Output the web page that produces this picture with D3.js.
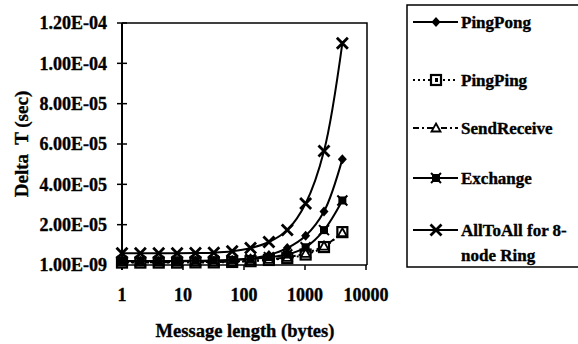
<!DOCTYPE html>
<html>
<head>
<meta charset="utf-8">
<script src="https://cdn.jsdelivr.net/npm/d3@7"></script>
<style>
	body { margin: 0; background: #fff; }
	svg { display: block; }
	text { font-family: 'Liberation Serif', Tinos, 'Times New Roman', serif; font-weight: bold; fill: #000; stroke: #000; stroke-width: 0.35px; }
</style>
</head>
<body>
<svg class="delta-chart" width="578" height="344"></svg>
<script>
// message sizes (bytes) and measured delta T (sec) per benchmark
let sizes = [1, 2, 4, 8, 16, 32, 64, 128, 256, 512, 1024, 2048, 4096];
let pingPong = [1.8e-6, 1.8e-6, 1.8e-6, 1.8e-6, 1.9e-6, 2.0e-6, 2.5e-6, 3.3e-6, 5.0e-6, 8.4e-6, 1.45e-5, 2.65e-5, 5.25e-5];
let pingPing = [1.2e-6, 1.2e-6, 1.2e-6, 1.2e-6, 1.3e-6, 1.3e-6, 1.5e-6, 1.9e-6, 2.5e-6, 3.4e-6, 5.2e-6, 8.9e-6, 1.63e-5];
let sendReceive = [1.4e-6, 1.4e-6, 1.4e-6, 1.4e-6, 1.5e-6, 1.5e-6, 1.7e-6, 2.1e-6, 2.8e-6, 3.8e-6, 5.8e-6, 9.4e-6, 1.6e-5];
let exchange = [2.0e-6, 2.0e-6, 2.0e-6, 2.0e-6, 2.1e-6, 2.2e-6, 2.5e-6, 3.0e-6, 3.9e-6, 5.2e-6, 8.8e-6, 1.73e-5, 3.2e-5];
let allToAll = [5.8e-6, 5.8e-6, 5.8e-6, 5.8e-6, 5.9e-6, 6.1e-6, 6.8e-6, 8.4e-6, 1.14e-5, 1.73e-5, 3.05e-5, 5.65e-5, 1.10e-4];

let seriesNames = ['PingPong', 'PingPing', 'SendReceive', 'Exchange', 'AllToAll for 8-'];
let yTicks = [1e-9, 2e-5, 4e-5, 6e-5, 8e-5, 1e-4, 1.2e-4];
let yTickLabels = ['1.00E-09', '2.00E-05', '4.00E-05', '6.00E-05', '8.00E-05', '1.00E-04', '1.20E-04'];
let xTicks = [1, 10, 100, 1000, 10000];

let plot = { left: 122, right: 367, top: 23, bottom: 265 };
let x = d3.scaleLog().domain([1, 10000]).range([plot.left, 366]);
let y = d3.scaleLinear().domain([1e-9, 1.2e-4]).range([plot.bottom, plot.top]);

let svg = d3.select('.delta-chart');

let series = [
	{ name: seriesNames[0], values: pingPong, dash: null, marker: 'diamond' },
	{ name: seriesNames[1], values: pingPing, dash: '2,3', marker: 'openSquare' },
	{ name: seriesNames[2], values: sendReceive, dash: '6,3,2,3', marker: 'triangle' },
	{ name: seriesNames[3], values: exchange, dash: null, marker: 'star' },
	{ name: seriesNames[4], values: allToAll, dash: null, marker: 'cross' }
];

// draw one marker into a group positioned at its centre
function drawMarker(sel, type) {
	if(type === 'diamond') {
		sel.append('path').attr('d', 'M0,-5L4.5,0L0,5L-4.5,0Z').attr('fill', '#000');
	} else if(type === 'openSquare') {
		sel.append('rect').attr('x', -5).attr('y', -5).attr('width', 10).attr('height', 10)
			.attr('fill', '#fff').attr('stroke', '#000').attr('stroke-width', 2.2);
		sel.append('rect').attr('x', -1).attr('y', -2).attr('width', 3).attr('height', 4).attr('fill', '#000');
	} else if(type === 'triangle') {
		sel.append('path').attr('d', 'M0,-4.5L4.5,3.5L-4.5,3.5Z')
			.attr('fill', '#fff').attr('stroke', '#000').attr('stroke-width', 1.8);
	} else if(type === 'star') {
		sel.append('rect').attr('x', -4).attr('y', -4).attr('width', 8).attr('height', 8).attr('fill', '#000');
		sel.append('path').attr('d', 'M-5,-5L5,5M-5,5L5,-5')
			.attr('stroke', '#000').attr('stroke-width', 2);
	} else if(type === 'cross') {
		sel.append('path').attr('d', 'M-5.5,-5.5L5.5,5.5M-5.5,5.5L5.5,-5.5')
			.attr('stroke', '#000').attr('stroke-width', 2.8);
	}
}

/* AXES */
let axes = svg.append('g');

// plot frame (top and right)
axes.append('path')
	.attr('d', 'M' + plot.left + ',' + plot.top + 'H' + plot.right + 'V' + plot.bottom)
	.attr('fill', 'none').attr('stroke', '#000').attr('stroke-width', 1.5);

// y axis line and crossing ticks
axes.append('line')
	.attr('x1', plot.left).attr('x2', plot.left)
	.attr('y1', plot.top).attr('y2', plot.bottom + 5)
	.attr('stroke', '#000').attr('stroke-width', 2);

axes.selectAll('.y-tick')
	.data(yTicks)
	.enter()
	.append('line')
	.attr('class', 'y-tick')
	.attr('x1', plot.left - 5).attr('x2', plot.left + 5)
	.attr('y1', function(d) { return y(d); })
	.attr('y2', function(d) { return y(d); })
	.attr('stroke', '#000').attr('stroke-width', 1.5);

axes.selectAll('.y-label')
	.data(yTicks)
	.enter()
	.append('text')
	.attr('class', 'y-label')
	.attr('x', 107)
	.attr('y', function(d) { return y(d); })
	.attr('dy', '0.35em')
	.attr('text-anchor', 'end')
	.style('font-size', '18px')
	.text(function(d, i) { return yTickLabels[i]; });

// x axis line and ticks
axes.append('line')
	.attr('x1', plot.left).attr('x2', plot.right)
	.attr('y1', plot.bottom).attr('y2', plot.bottom)
	.attr('stroke', '#000').attr('stroke-width', 1.5);

axes.selectAll('.x-tick')
	.data(xTicks)
	.enter()
	.append('line')
	.attr('class', 'x-tick')
	.attr('x1', function(d) { return x(d); })
	.attr('x2', function(d) { return x(d); })
	.attr('y1', plot.bottom).attr('y2', plot.bottom + 5)
	.attr('stroke', '#000').attr('stroke-width', 1.5);

axes.selectAll('.x-label')
	.data(xTicks)
	.enter()
	.append('text')
	.attr('class', 'x-label')
	.attr('x', function(d) { return x(d); })
	.attr('y', 301)
	.attr('text-anchor', 'middle')
	.style('font-size', '18px')
	.text(function(d) { return d; });

axes.append('text')
	.attr('x', 245).attr('y', 337)
	.attr('text-anchor', 'middle')
	.style('font-size', '18.5px')
	.text('Message length (bytes)');

axes.append('text')
	.attr('transform', 'translate(28,144) rotate(-90)')
	.attr('text-anchor', 'middle')
	.style('font-size', '19px')
	.style('white-space', 'pre')
	.text('Delta  T (sec)');

/* SERIES */
let line = d3.line()
	.x(function(d) { return x(d[0]); })
	.y(function(d) { return y(d[1]); })
	.curve(d3.curveCatmullRom.alpha(0.5));

let lines = svg.append('g');

series.forEach(function(s) {
	let pts = sizes.map(function(size, i) { return [size, s.values[i]]; });

	lines.append('path')
		.datum(pts)
		.attr('d', line)
		.attr('fill', 'none')
		.attr('stroke', '#000')
		.attr('stroke-width', 2)
		.attr('stroke-dasharray', s.dash);

	lines.selectAll(null)
		.data(pts)
		.enter()
		.append('g')
		.attr('transform', function(d) { return 'translate(' + x(d[0]) + ',' + y(d[1]) + ')'; })
		.each(function() { drawMarker(d3.select(this), s.marker); });
});

/* LEGEND */
let legend = svg.append('g');

legend.append('rect')
	.attr('x', 407).attr('y', 5)
	.attr('width', 200).attr('height', 262)
	.attr('fill', '#fff').attr('stroke', '#000').attr('stroke-width', 1.5);

let legendY = [22, 80, 128, 178, 230];

series.forEach(function(s, i) {
	let item = legend.append('g').attr('transform', 'translate(0,' + legendY[i] + ')');

	item.append('line')
		.attr('x1', 413).attr('x2', 458)
		.attr('y1', 0).attr('y2', 0)
		.attr('stroke', '#000')
		.attr('stroke-width', 2)
		.attr('stroke-dasharray', s.dash);

	drawMarker(item.append('g').attr('transform', 'translate(436,0)'), s.marker);

	item.append('text')
		.attr('x', 461).attr('y', 0)
		.attr('dy', '0.35em')
		.style('font-size', '17px')
		.text(s.name);
});

legend.append('text')
	.attr('x', 461).attr('y', 255)
	.attr('dy', '0.35em')
	.style('font-size', '17px')
	.text('node Ring');
</script>
</body>
</html>
